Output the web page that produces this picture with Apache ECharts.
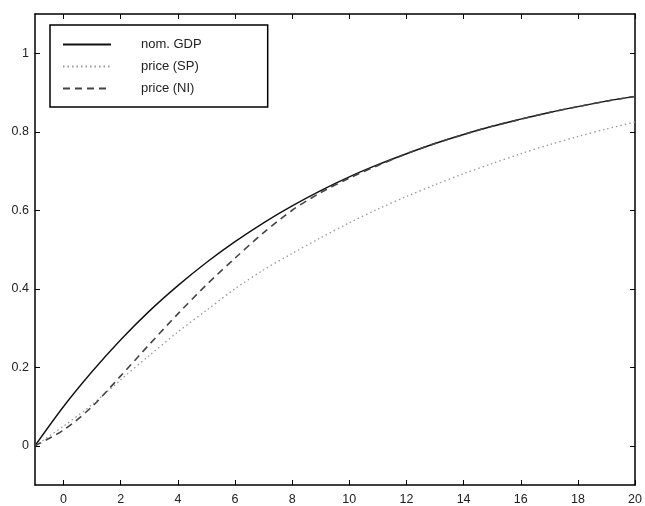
<!DOCTYPE html>
<html>
<head>
<meta charset="utf-8">
<script src="https://cdn.jsdelivr.net/npm/echarts@6/dist/echarts.min.js"></script>
<style>
  html, body { margin: 0; padding: 0; background: #fff; }
  #chart { width: 645px; height: 506px; }
</style>
</head>
<body>
<div id="chart"></div>
<script>
// horizon, -1 .. 20
const horizon = [-1, 0, 1, 2, 3, 4, 5, 6, 7, 8, 9, 10, 11, 12, 13, 14, 15, 16, 17, 18, 19, 20]
const nomGDP = [0, 0.10, 0.189, 0.27, 0.343, 0.408, 0.467, 0.52, 0.568, 0.611, 0.65, 0.685, 0.716, 0.744, 0.77, 0.793, 0.814, 0.832, 0.849, 0.864, 0.878, 0.89]
const priceSP = [0, 0.05, 0.105, 0.168, 0.23, 0.29, 0.345, 0.40, 0.448, 0.49, 0.53, 0.568, 0.603, 0.635, 0.665, 0.693, 0.719, 0.744, 0.767, 0.788, 0.807, 0.825]
const priceNI = [0, 0.04, 0.10, 0.178, 0.258, 0.336, 0.41, 0.478, 0.543, 0.6, 0.645, 0.682, 0.714, 0.744, 0.77, 0.793, 0.814, 0.832, 0.849, 0.864, 0.878, 0.89]
const xTicks = [0, 2, 4, 6, 8, 10, 12, 14, 16, 18, 20]
const yTicks = [0, 0.2, 0.4, 0.6, 0.8, 1]

const pairs = ys => horizon.map((x, i) => [x, ys[i]])

const chart = echarts.init(document.getElementById('chart'))

const labelStyle = { color: '#222', fontSize: 12.5, fontFamily: 'Liberation Sans, Arial, sans-serif' }
const frame = { show: true, onZero: false, lineStyle: { color: '#000', width: 1.5 } }

const option = {
  backgroundColor: '#fff',
  animation: false,
  grid: { left: 35, right: 8, top: 14, bottom: 18 },
  legend: {
    orient: 'vertical',
    left: 50,
    top: 25,
    padding: [13, 66, 12, 12],
    borderColor: '#000',
    borderWidth: 1.5,
    itemWidth: 48,
    itemHeight: 10,
    itemGap: 9,
    itemStyle: { opacity: 0 },
    textStyle: { color: '#222', fontSize: 13, fontFamily: 'Liberation Sans, Arial, sans-serif', padding: [0, 0, 0, 25] },
    data: ['nom. GDP', 'price (SP)', 'price (NI)']
  },
  xAxis: [
    {
      type: 'value', min: -1, max: 20,
      axisLine: frame,
      axisTick: { show: true, inside: true, length: 5, customValues: xTicks, lineStyle: { color: '#000' } },
      axisLabel: { ...labelStyle, margin: 8, customValues: xTicks },
      splitLine: { show: false }
    },
    {
      type: 'value', min: -1, max: 20, position: 'top',
      axisLine: frame,
      axisTick: { show: true, inside: true, length: 5, customValues: xTicks, lineStyle: { color: '#000' } },
      axisLabel: { show: false },
      splitLine: { show: false }
    }
  ],
  yAxis: [
    {
      type: 'value', min: -0.1, max: 1.1,
      axisLine: frame,
      axisTick: { show: true, inside: true, length: 5, customValues: yTicks, lineStyle: { color: '#000' } },
      axisLabel: { ...labelStyle, margin: 6, customValues: yTicks, formatter: v => String(Math.round(v * 10) / 10) },
      splitLine: { show: false }
    },
    {
      type: 'value', min: -0.1, max: 1.1, position: 'right',
      axisLine: frame,
      axisTick: { show: true, inside: true, length: 5, customValues: yTicks, lineStyle: { color: '#000' } },
      axisLabel: { show: false },
      splitLine: { show: false }
    }
  ],
  series: [
    {
      name: 'nom. GDP', type: 'line', data: pairs(nomGDP), smooth: 0.3,
      symbol: 'none', lineStyle: { color: '#111', width: 1.4, type: 'solid' }, itemStyle: { color: '#111' }
    },
    {
      name: 'price (SP)', type: 'line', data: pairs(priceSP), smooth: 0.3,
      symbol: 'none', lineStyle: { color: '#999', width: 1.3, type: [1.5, 3] }, itemStyle: { color: '#999' }
    },
    {
      name: 'price (NI)', type: 'line', data: pairs(priceNI), smooth: 0.3,
      symbol: 'none', lineStyle: { color: '#444', width: 1.6, type: [7, 5] }, itemStyle: { color: '#444' }
    }
  ]
}

chart.setOption(option)
</script>
</body>
</html>
